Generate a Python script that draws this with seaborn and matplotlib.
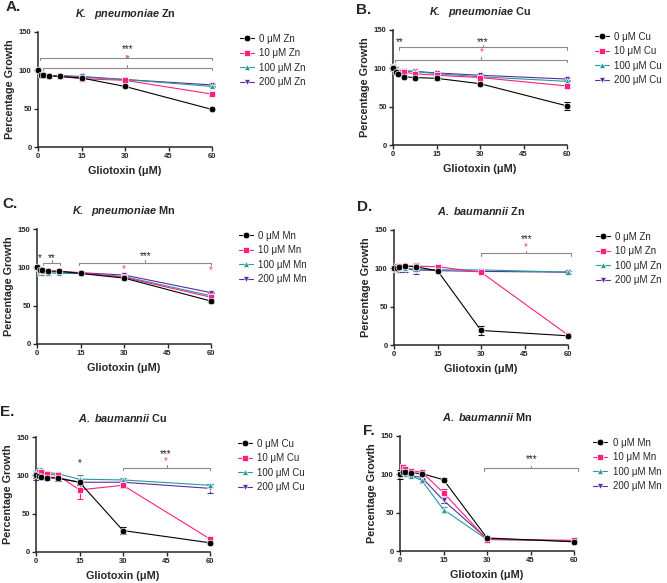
import numpy as np
import pandas as pd
import matplotlib
matplotlib.use("Agg")
import matplotlib.pyplot as plt
import seaborn as sns

# gliotoxin doses (uM)
glio = [0, 0.94, 1.875, 3.75, 7.5, 15, 30, 60]
conc = ["0", "10", "100", "200"]
colors = ["#000000", "#FF1F7F", "#27999A", "#5A2DA0"]
markers = ["o", "s", "^", "v"]

# mean % growth, one row per metal concentration (0, 10, 100, 200 uM)
kp_zn = [[100, 94, 94, 93, 92, 90, 79, 49],
         [100, 95, 94, 93, 92, 89, 87, 69],
         [100, 95, 94, 93, 93, 91, 88, 79],
         [100, 95, 94, 93, 93, 92, 88, 81]]
kp_zn_err = [[1, 1, 1, 1, 1, 1, 1, 1]] * 4

kp_cu = [[100, 95, 92, 89, 88, 87, 80, 51],
         [100, 97, 95, 95, 93, 91, 88, 77],
         [103, 99, 97, 96, 96, 93, 89, 83],
         [102, 99, 97, 97, 96, 94, 91, 86]]
kp_cu_err = [[3, 2, 1, 2, 1, 2, 1, 5],
             [2, 1, 1, 1, 1, 1, 1, 2],
             [3, 1, 1, 1, 1, 1, 1, 2],
             [2, 1, 1, 1, 1, 1, 1, 2]]

kp_mn = [[100, 97, 96, 95, 95, 92, 86, 56],
         [100, 95, 95, 95, 95, 93, 87, 61],
         [99, 93, 93, 93, 92, 92, 88, 63],
         [100, 96, 95, 94, 94, 93, 90, 67]]
kp_mn_err = [[1, 1, 1, 1, 1, 1, 2, 2],
             [1, 1, 1, 1, 1, 1, 1, 2],
             [1, 1, 1, 1, 1, 1, 1, 1],
             [1, 1, 1, 1, 1, 1, 1, 1]]

ab_zn = [[100, 101, 102, 103, 102, 97, 19, 12],
         [100, 103, 103, 103, 103, 102, 95, 13],
         [99, 100, 100, 100, 99, 98, 98, 95],
         [99, 99, 99, 99, 98, 97, 96, 95]]
ab_zn_err = [[1, 1, 1, 1, 5, 2, 6, 2],
             [1, 1, 1, 1, 1, 1, 2, 1],
             [1, 1, 1, 1, 1, 1, 1, 1],
             [3, 4, 4, 4, 5, 1, 1, 2]]

ab_cu = [[100, 99, 98, 97, 96, 91, 28, 12],
         [102, 105, 104, 102, 100, 81, 87, 17],
         [103, 107, 105, 104, 102, 95, 94, 87],
         [100, 101, 100, 98, 97, 91, 91, 83]]
ab_cu_err = [[3, 2, 2, 3, 3, 4, 5, 1],
             [3, 2, 2, 2, 2, 12, 3, 2],
             [3, 2, 2, 2, 3, 5, 3, 2],
             [6, 2, 2, 2, 2, 2, 2, 6]]

ab_mn = [[100, 103, 103, 102, 101, 93, 17, 12],
         [100, 109, 107, 105, 103, 76, 15, 14],
         [100, 100, 100, 98, 92, 54, 15, 13],
         [99, 100, 100, 98, 96, 66, 16, 13]]
ab_mn_err = [[6, 2, 2, 2, 2, 2, 2, 1],
             [2, 2, 2, 2, 2, 5, 1, 1],
             [2, 2, 2, 2, 3, 4, 1, 1],
             [2, 2, 2, 2, 2, 4, 1, 1]]

sns.set_style("ticks")
plt.rcParams["font.family"] = ["Liberation Sans", "DejaVu Sans"]
plt.rcParams["mathtext.fontset"] = "custom"
plt.rcParams["mathtext.rm"] = "Liberation Sans:bold"
plt.rcParams["mathtext.bf"] = "Liberation Sans:bold"
plt.rcParams["mathtext.it"] = "Liberation Sans:italic:bold"
plt.rcParams["mathtext.bfit"] = "Liberation Sans:italic:bold"

fig = plt.figure(figsize=(6.67, 5.83), dpi=100)
W, H = 667, 583
RED = "#F04A40"


def px_axes(l, t, r, b):
    return fig.add_axes([l / W, 1 - b / H, (r - l) / W, (b - t) / H])


def bracket(ax, x0, x1, y):
    ax.plot([x0, x0, x1, x1], [y - 3, y, y, y - 3], color="#8a8a8a", lw=0.8, clip_on=False)
    xm = (x0 + x1) / 2
    ax.plot([xm, xm], [y, y + 3], color="#8a8a8a", lw=0.8, clip_on=False)


def stars(ax, x, y, s, color="#222222"):
    # y is the centre of the asterisks
    ax.text(x, y - 2.4, s, ha="center", va="baseline", fontsize=7,
            color=color, clip_on=False)


def panel(ax, means, errs, metal, species, letter, lx, ly, leg_x=1.11):
    rows = []
    for i, c in enumerate(conc):
        for xv, yv in zip(glio, means[i]):
            rows.append({"x": xv, "y": yv, "grp": c + " μM " + metal})
    df = pd.DataFrame(rows)
    labels = [c + " μM " + metal for c in conc]
    for i in range(4):
        ax.errorbar(glio, means[i], yerr=errs[i], fmt="none", ecolor=colors[i],
                    elinewidth=0.8, capsize=2, capthick=0.8, zorder=5 - i, clip_on=False)
    sns.lineplot(data=df, x="x", y="y", hue="grp", style="grp", hue_order=labels,
                 style_order=labels, palette=colors, markers=markers, dashes=False,
                 markersize=4.8, markeredgewidth=0.5, linewidth=0.8, ax=ax)
    # black series on top, like the original
    for line in ax.lines:
        line.set_clip_on(False)
        col = line.get_color()
        if col in colors:
            line.set_zorder(10 - colors.index(col))
    sns.move_legend(ax, "upper left", bbox_to_anchor=(leg_x, 1.06), frameon=False,
                    title=None, fontsize=7, handlelength=1.4, labelspacing=0.45,
                    handletextpad=0.6)
    ax.set_xlim(0, 60)
    ax.set_ylim(0, 150)
    ax.set_xticks([0, 15, 30, 45, 60])
    ax.set_yticks([0, 50, 100, 150])
    ax.tick_params(labelsize=5.5, width=1, length=3, pad=1.5)
    for t in ax.get_xticklabels() + ax.get_yticklabels():
        t.set_fontweight("bold")
    for sp in ["top", "right"]:
        ax.spines[sp].set_visible(False)
    for sp in ["left", "bottom"]:
        ax.spines[sp].set_linewidth(1.1)
    ax.set_xlabel("Gliotoxin (μM)", fontsize=7.8, fontweight="bold", labelpad=4)
    ax.set_ylabel("Percentage Growth", fontsize=7.8, fontweight="bold", labelpad=3)
    ax.set_title(r"$\mathbfit{" + species + "}$ " + metal, fontsize=7.8,
                 fontweight="bold", pad=11)
    fig.text(lx / W, 1 - ly / H, letter, fontsize=11, fontweight="bold", va="center")


kp = r"K.\ \ pneumoniae"
ab = r"A.\ baumannii"

axA = px_axes(38, 32, 212, 147)
panel(axA, kp_zn, kp_zn_err, "Zn", kp, "A.", 6, 7)
bracket(axA, 0.8, 60, 116.5)
stars(axA, 31, 126, "***")
bracket(axA, 1.7, 60, 103.5)
stars(axA, 31, 113, "*", RED)

axB = px_axes(393, 30, 567, 145)
panel(axB, kp_cu, kp_cu_err, "Cu", kp, "B.", 356, 10)
bracket(axB, 1.9, 60, 127.4)
stars(axB, 31, 133, "***")
stars(axB, 2.2, 133, "**")
bracket(axB, 0.8, 60, 111.3)
stars(axB, 30.5, 119.5, "*", RED)

axC = px_axes(37, 229, 211, 344)
panel(axC, kp_mn, kp_mn_err, "Mn", kp, "C.", 2, 204)
stars(axC, 1.1, 111, "*")
stars(axC, 5.2, 111, "**")
bracket(axC, 2, 8, 106)
stars(axC, 37.4, 113, "***")
bracket(axC, 14.6, 60, 106)
stars(axC, 30, 96.6, "*", RED)
stars(axC, 60, 95.4, "*", RED)

axD = px_axes(394, 230, 568, 345)
panel(axD, ab_zn, ab_zn_err, "Zn", ab, "D.", 357, 207)
bracket(axD, 30, 61, 119.6)
stars(axD, 45.6, 136, "***")
stars(axD, 45.6, 126, "*", RED)

axE = px_axes(36, 437, 210, 552)
panel(axE, ab_cu, ab_cu_err, "Cu", ab, "E.", 0, 412)
stars(axE, 15, 115, "*")
bracket(axE, 30, 60, 110)
stars(axE, 44.7, 126, "***")
stars(axE, 44.7, 117, "*", RED)

axF = px_axes(400, 436, 574, 551)
panel(axF, ab_mn, ab_mn_err, "Mn", ab, "F.", 363, 431, leg_x=1.06)
bracket(axF, 29, 61.3, 108)
stars(axF, 45.3, 119, "***")

fig.savefig("out.png", dpi=100)
